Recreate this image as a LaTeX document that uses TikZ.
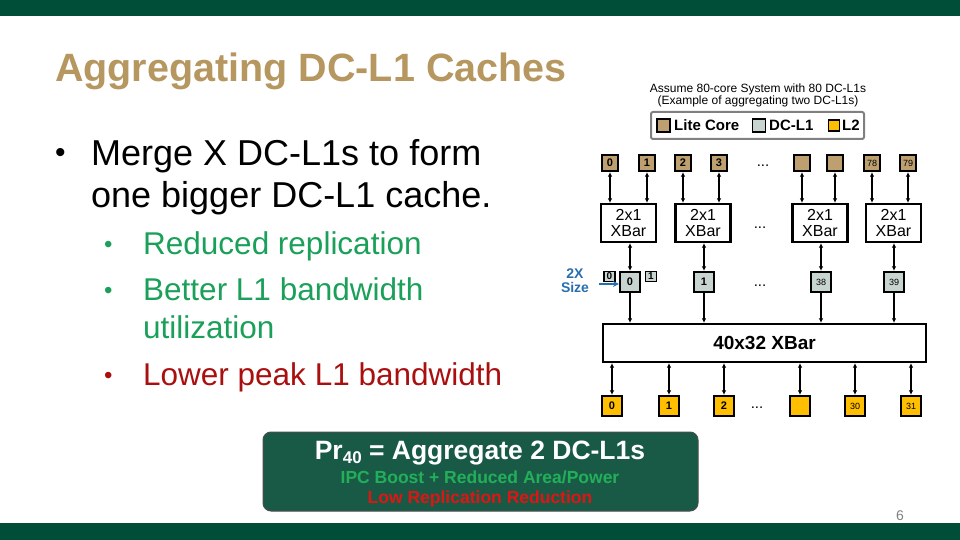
\documentclass[tikz,border=0pt]{standalone}
\usepackage{fontspec}
\setmainfont{Liberation Sans}
\usetikzlibrary{arrows.meta}
\definecolor{slidegreen}{RGB}{0,77,56}
\definecolor{titletan}{RGB}{181,151,95}
\definecolor{litecore}{RGB}{190,160,112}
\definecolor{dclone}{RGB}{200,212,208}
\definecolor{ltwo}{RGB}{255,190,0}
\definecolor{goodgreen}{RGB}{27,160,90}
\definecolor{boxtextgreen}{RGB}{35,175,90}
\definecolor{badred}{RGB}{170,15,15}
\definecolor{boxtextred}{RGB}{225,20,20}
\definecolor{boxgreen}{RGB}{25,90,70}
\definecolor{sizeblue}{RGB}{40,110,175}
\newcommand{\fs}[1]{\fontsize{#1}{#1}\selectfont}

\begin{document}
\begin{tikzpicture}[x=1pt, y=-1pt,
    unit/.style={draw=black, line width=2.2pt, minimum size=16pt, inner sep=0pt, font=\fs{11}\bfseries},
    smallnum/.style={font=\fs{9}},
    corebox/.style={unit, fill=litecore},
    dclbox/.style={unit, fill=dclone, minimum size=20pt},
    ltwobox/.style={unit, fill=ltwo, minimum size=20pt},
    xbarbox/.style={draw=black, line width=2.2pt, fill=white, minimum width=55pt, minimum height=38pt, inner sep=0pt, align=center, font=\fs{16}},
    link/.style={line width=1.5pt, {Latex[length=4.5pt,width=4.5pt]}-{Latex[length=4.5pt,width=4.5pt]}},
    down/.style={line width=1.5pt, -{Latex[length=4.5pt,width=4.5pt]}},
    txt/.style={anchor=base west, inner sep=0pt},
    dots/.style={font=\fs{15}, inner sep=0pt, anchor=base},
]
    \useasboundingbox (0,0) rectangle (960,540);
    \fill[slidegreen] (0,0) rectangle (960,16);
    \fill[slidegreen] (0,523) rectangle (960,540);

    \node[txt, text=titletan, font=\fs{39.5}\bfseries] (title) at (55,82) {Aggregating DC-L1 Caches};

    \node[txt, font=\fs{30}] (b1dot) at (55,163) {\textbullet};
    \node[txt, font=\fs{36}] (b1a) at (91,165) {Merge X DC-L1s to form};
    \node[txt, font=\fs{36}] (b1b) at (91,207) {one bigger DC-L1 cache.};
    \node[txt, text=goodgreen, font=\fs{24}] (b2dot) at (104,252) {\textbullet};
    \node[txt, text=goodgreen, font=\fs{31.5}] (b2) at (143,254) {Reduced replication};
    \node[txt, text=goodgreen, font=\fs{24}] (b3dot) at (104,298) {\textbullet};
    \node[txt, text=goodgreen, font=\fs{31.5}] (b3a) at (143,300) {Better L1 bandwidth};
    \node[txt, text=goodgreen, font=\fs{31.5}] (b3b) at (143,338) {utilization};
    \node[txt, text=badred, font=\fs{24}] (b4dot) at (104,383) {\textbullet};
    \node[txt, text=badred, font=\fs{31.5}] (b4) at (143,385) {Lower peak L1 bandwidth};

    \node[font=\fs{12}, align=center, inner sep=0pt] (assume) at (758,95) {Assume 80-core System with 80 DC-L1s\\(Example of aggregating two DC-L1s)};
    \draw[gray, line width=2pt, rounded corners=2pt] (651,112) rectangle (864,139);
    \node[unit, fill=litecore, minimum size=13pt, line width=1.8pt] (keycore) at (663.5,125.5) {};
    \node[txt, font=\fs{15}\bfseries] (keycoretxt) at (674,131) {Lite Core};
    \node[unit, fill=dclone, minimum size=13pt, line width=1.8pt] (keydcl) at (759,125.5) {};
    \node[txt, font=\fs{15}\bfseries] (keydcltxt) at (769,131) {DC-L1};
    \node[unit, fill=ltwo, minimum size=11pt, line width=1.8pt] (keyltwo) at (834,125.5) {};
    \node[txt, font=\fs{15}\bfseries] (keyltwotxt) at (842,131) {L2};

    \node[corebox] (c0) at (610,163) {0};
    \node[corebox] (c1) at (647,163) {1};
    \node[corebox] (c2) at (683,163) {2};
    \node[corebox] (c3) at (719,163) {3};
    \node[dots] (cdots) at (763,167) {...};
    \node[corebox] (c76) at (802,163) {};
    \node[corebox] (c77) at (835,163) {};
    \node[corebox, smallnum] (c78) at (872,163) {78};
    \node[corebox, smallnum] (c79) at (908,163) {79};

    \node[xbarbox] (xb0) at (628.5,223) {2x1\\XBar};
    \node[xbarbox] (xb1) at (703,223) {2x1\\XBar};
    \node[dots] (xbdots) at (760,228) {...};
    \node[xbarbox] (xb38) at (820,223) {2x1\\XBar};
    \node[xbarbox] (xb39) at (893.5,223) {2x1\\XBar};

    \draw[link] (c0.south) -- (c0.south |- xb0.north);
    \draw[link] (c1.south) -- (c1.south |- xb0.north);
    \draw[link] (c2.south) -- (c2.south |- xb1.north);
    \draw[link] (c3.south) -- (c3.south |- xb1.north);
    \draw[link] (c76.south) -- (c76.south |- xb38.north);
    \draw[link] (c77.south) -- (c77.south |- xb38.north);
    \draw[link] (c78.south) -- (c78.south |- xb39.north);
    \draw[link] (c79.south) -- (c79.south |- xb39.north);

    \node[unit, fill=dclone, minimum width=11pt, minimum height=10pt, line width=1.8pt, font=\fs{10}\bfseries] (old0) at (609.5,276.5) {0};
    \node[unit, fill=dclone, minimum width=11pt, minimum height=10pt, line width=1.8pt, font=\fs{10}\bfseries] (old1) at (651,276.5) {1};
    \node[dclbox] (d0) at (630,282) {0};
    \node[dclbox] (d1) at (704,282) {1};
    \node[dots] (ddots) at (760,286) {...};
    \node[dclbox, smallnum] (d38) at (821,282) {38};
    \node[dclbox, smallnum] (d39) at (894,282) {39};
    \node[text=sizeblue, font=\fs{14}\bfseries, align=center, inner sep=0pt] (sizelbl) at (575,281) {2X\\Size};
    \coordinate (sizetail) at (599,284);
    \draw[sizeblue, line width=1.6pt, -{Stealth[length=6pt,width=6pt]}] (sizetail) -- (d0.west |- sizetail);

    \draw[link] (d0.north |- xb0.south) -- (d0.north);
    \draw[link] (d1.north |- xb1.south) -- (d1.north);
    \draw[link] (d38.north |- xb38.south) -- (d38.north);
    \draw[link] (d39.north |- xb39.south) -- (d39.north);

    \node[draw=black, line width=2.2pt, fill=white, minimum width=323pt, minimum height=38pt, font=\fs{19}\bfseries] (bigxb) at (764.5,343) {40x32 XBar};
    \draw[down] (d0.south) -- (d0.south |- bigxb.north);
    \draw[down] (d1.south) -- (d1.south |- bigxb.north);
    \draw[down] (d38.south) -- (d38.south |- bigxb.north);
    \draw[down] (d39.south) -- (d39.south |- bigxb.north);

    \node[ltwobox] (l0) at (612,406) {0};
    \node[ltwobox] (l1) at (669,406) {1};
    \node[ltwobox] (l2) at (724,406) {2};
    \node[dots] (ldots) at (757,408) {...};
    \node[ltwobox] (l29) at (800,406) {};
    \node[ltwobox, smallnum] (l30) at (855,406) {30};
    \node[ltwobox, smallnum] (l31) at (911,406) {31};
    \draw[link] (l0.north |- bigxb.south) -- (l0.north);
    \draw[link] (l1.north |- bigxb.south) -- (l1.north);
    \draw[link] (l2.north |- bigxb.south) -- (l2.north);
    \draw[link] (l29.north |- bigxb.south) -- (l29.north);
    \draw[link] (l30.north |- bigxb.south) -- (l30.north);
    \draw[link] (l31.north |- bigxb.south) -- (l31.north);

    \node[draw=black!70, fill=boxgreen, line width=1pt, rounded corners=8pt, minimum width=435pt, minimum height=79pt] (prbox) at (480.5,471.5) {};
    \node[anchor=base, inner sep=0pt, text=white, font=\fs{26.5}\bfseries] (prtxt) at (480,459) {Pr\raisebox{-0.35ex}{\fs{17}40} = Aggregate 2 DC-L1s};
    \node[anchor=base, inner sep=0pt, text=boxtextgreen, font=\fs{17.5}\bfseries] (ipctxt) at (480,483) {IPC Boost + Reduced Area/Power};
    \node[anchor=base, inner sep=0pt, text=boxtextred, font=\fs{17.5}\bfseries] (lowtxt) at (480,503) {Low Replication Reduction};

    \node[anchor=base, inner sep=0pt, text=gray, font=\fs{14}] (pagenum) at (900,520) {6};
\end{tikzpicture}
\end{document}
